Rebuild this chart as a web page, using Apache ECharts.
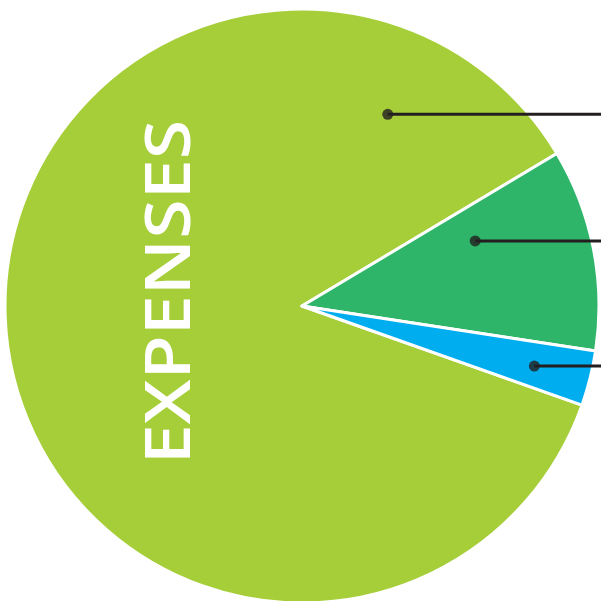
<!DOCTYPE html>
<html>
<head>
<meta charset="utf-8">
<style>html,body{margin:0;padding:0;background:#fff;}#c{width:601px;height:601px;}</style>
<script src="https://cdn.jsdelivr.net/npm/echarts@6/dist/echarts.min.js"></script>
</head>
<body>
<div id="c"></div>
<script>
// Data
var categories = ['Program Services', 'Management & General', 'Fundraising'];
var values = [86, 11, 3];
var colors = ['#a6ce39', '#2eb569', '#00aeef'];
// Annotation anchors (angle in degrees counter-clockwise from east, radius as fraction of pie radius)
var anchorAngles = [65.9, 20.6, -14.5];
var anchorRadii = [0.707, 0.623, 0.808];
var title = 'EXPENSES';

var W = 601, H = 601;
var CX = 302, CY = 306, R = 297;

var chart = echarts.init(document.getElementById('c'), null, {renderer: 'canvas'});

var xMin = -CX / R, xMax = (W - CX) / R;
var yMin = -(H - CY) / R, yMax = CY / R;

var dots = anchorAngles.map(function (a, i) {
  var t = a * Math.PI / 180;
  return [anchorRadii[i] * Math.cos(t), anchorRadii[i] * Math.sin(t)];
});

var lineSeries = dots.map(function (d) {
  return {
    type: 'line', xAxisIndex: 0, yAxisIndex: 0, z: 5,
    symbol: 'none', silent: true, animation: false,
    lineStyle: {color: '#231f20', width: 3},
    data: [[d[0], d[1]], [xMax, d[1]]]
  };
});

chart.setOption({
  animation: false,
  backgroundColor: '#ffffff',
  grid: {left: 0, right: 0, top: 0, bottom: 0, containLabel: false},
  xAxis: {type: 'value', min: xMin, max: xMax, show: false},
  yAxis: {type: 'value', min: yMin, max: yMax, show: false},
  graphic: [{
    type: 'text',
    x: 171.5, y: 292,
    rotation: Math.PI / 2,
    scaleX: 1.123,
    z: 10,
    style: {
      text: title,
      fill: '#ffffff',
      font: '600 64px "Open Sans"',
      textAlign: 'center',
      textVerticalAlign: 'middle'
    }
  }],
  series: [{
    type: 'pie',
    center: [CX, CY],
    radius: [0, R],
    startAngle: 340.5,
    clockwise: true,
    silent: true,
    label: {show: false},
    labelLine: {show: false},
    itemStyle: {borderColor: '#ffffff', borderWidth: 3},
    data: categories.map(function (c, i) {
      return {name: c, value: values[i], itemStyle: {color: colors[i]}};
    })
  }].concat(lineSeries).concat([{
    type: 'scatter', z: 6, silent: true,
    symbol: 'circle', symbolSize: 11,
    itemStyle: {color: '#231f20'},
    data: dots
  }])
});
</script>
</body>
</html>
